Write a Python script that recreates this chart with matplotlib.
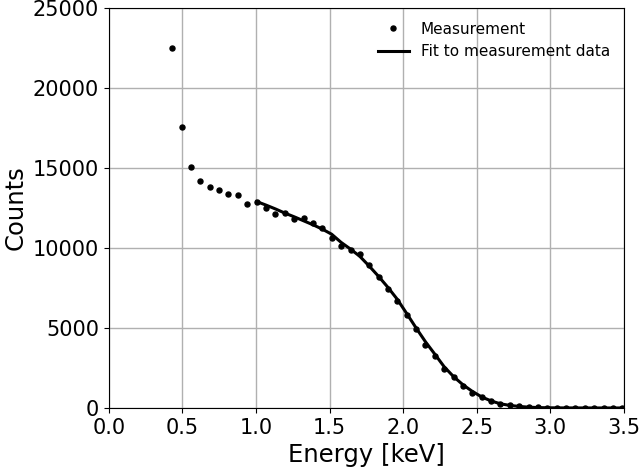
import matplotlib
matplotlib.use("Agg")
import matplotlib.pyplot as plt

energy = [0.431, 0.495, 0.558, 0.622, 0.686, 0.750, 0.813, 0.877, 0.941, 1.005,
          1.068, 1.132, 1.196, 1.259, 1.323, 1.387, 1.450, 1.514, 1.578, 1.642,
          1.705, 1.769, 1.833, 1.896, 1.960, 2.024, 2.087, 2.151, 2.215, 2.278,
          2.342, 2.406, 2.469, 2.533, 2.597, 2.660, 2.724, 2.788, 2.852, 2.915,
          2.979, 3.043, 3.106, 3.170, 3.234, 3.297, 3.361, 3.425, 3.489]
counts = [22500, 17560, 15040, 14170, 13790, 13650, 13350, 13330, 12770, 12900,
          12480, 12100, 12170, 11810, 11850, 11560, 11230, 10600, 10100, 9900,
          9625, 8940, 8190, 7460, 6690, 5810, 4960, 3920, 3230, 2420,
          1920, 1360, 920, 690, 420, 270, 170, 100, 60, 30,
          15, 8, 5, 3, 2, 1, 1, 0, 0]

fit_energy = [1.005, 1.068, 1.132, 1.196, 1.259, 1.323, 1.387, 1.450, 1.514, 1.578,
              1.642, 1.705, 1.769, 1.833, 1.896, 1.960, 2.024, 2.087, 2.151, 2.215,
              2.278, 2.342, 2.406, 2.469, 2.533, 2.597, 2.660, 2.724, 2.788, 2.852,
              2.915, 2.979, 3.043, 3.106, 3.170, 3.234, 3.297, 3.361, 3.425, 3.500]
fit_counts = [12900, 12680, 12440, 12180, 11950, 11700, 11450, 11180, 10860, 10350,
              9930, 9480, 8870, 8220, 7540, 6790, 5900, 5010, 4140, 3360,
              2580, 1960, 1450, 1040, 690, 440, 260, 160, 95, 50,
              25, 12, 6, 3, 2, 1, 0, 0, 0, 0]

fig = plt.figure(figsize=(6.4, 4.7), dpi=100)
ax = fig.add_axes([0.17, 0.132, 0.805, 0.851])
ax.plot(energy, counts, 'o', color='black', markersize=3.6, label='Measurement')
ax.plot(fit_energy, fit_counts, '-', color='black', linewidth=2.2,
        label='Fit to measurement data')
ax.set_xlim(0, 3.5)
ax.set_ylim(0, 25000)
ax.set_xticks([0.0, 0.5, 1.0, 1.5, 2.0, 2.5, 3.0, 3.5])
ax.set_yticks([0, 5000, 10000, 15000, 20000, 25000])
ax.tick_params(labelsize=15)
ax.set_xlabel('Energy [keV]', fontsize=17.5, labelpad=4)
ax.set_ylabel('Counts', fontsize=17.5, labelpad=4)
ax.grid(True, color='#b0b0b0', linewidth=1)
ax.set_axisbelow(True)
ax.legend(loc='upper right', frameon=False, fontsize=11)
fig.savefig('out.png', dpi=100)
